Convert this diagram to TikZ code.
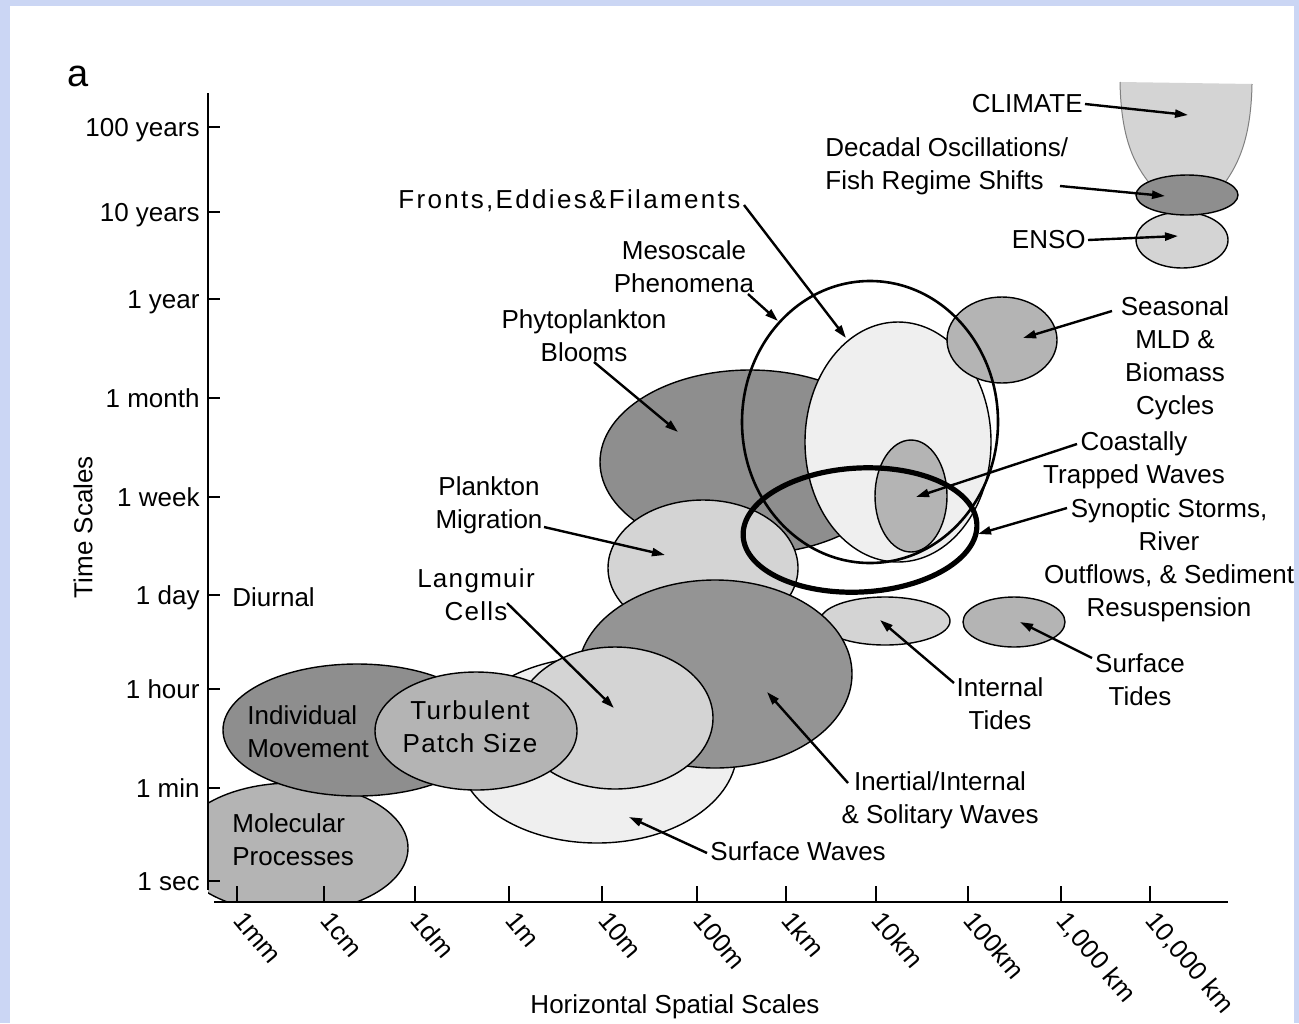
\documentclass[tikz,border=0pt]{standalone}
\usepackage{fontspec}
\setmainfont{Liberation Sans}
\usetikzlibrary{arrows.meta}
\definecolor{bgblue}{RGB}{203,214,244}
\definecolor{dk}{RGB}{142,142,142}
\definecolor{md}{RGB}{180,180,180}
\definecolor{lt}{RGB}{212,212,212}
\definecolor{vl}{RGB}{239,239,239}
\begin{document}
\begin{tikzpicture}[x=0.5pt,y=-0.5pt,
  lbl/.style={font=\fontsize{13}{16.5}\selectfont, inner sep=0pt, align=center},
  bub/.style={draw=black, line width=0.7pt},
  arr/.style={line width=1.2pt, -{Triangle[length=6.5pt,width=4pt]}},
  axisline/.style={line width=1.1pt},
]
\fill[bgblue] (0,0) rectangle (1299,1023);
\fill[white] (10,6) rectangle (1294,1023);
\useasboundingbox (0,0) rectangle (1299,1023);

% ---------- bubbles ----------
\begin{scope}
  \clip (208,700) rectangle (600,902);
  \draw[bub, fill=md] (292,848) ellipse [x radius=116, y radius=65];
\end{scope}
\draw[bub, fill=vl] (597,750) ellipse [x radius=140, y radius=93];
\draw[bub, fill=dk] (357,730) ellipse [x radius=134, y radius=66];
\draw[bub, fill=dk] (750,462) ellipse [x radius=150, y radius=92];
\draw[bub, fill=lt] (703,568) ellipse [x radius=95, y radius=68];
\draw[bub, fill=lt] (885,621) ellipse [x radius=65, y radius=24];
\draw[bub, fill=dk!95!white] (715,674) ellipse [x radius=137, y radius=94];
\draw[bub, fill=lt] (615,718) ellipse [x radius=98, y radius=71];
\draw[bub, fill=md] (476,731) ellipse [x radius=101, y radius=59];
\draw[bub, fill=vl] (898,442) ellipse [x radius=93, y radius=120];
\draw[bub, fill=md] (1002,340) ellipse [x radius=55, y radius=43];
\draw[bub, fill=md] (911,496) ellipse [x radius=36, y radius=56];
\draw[bub, fill=md] (1014,622) ellipse [x radius=51, y radius=25];
\draw[line width=1.3pt] (870,422) ellipse [x radius=128, y radius=141];
\draw[line width=2.6pt, rotate around={3:(860,530)}] (860,530) ellipse [x radius=117, y radius=62];

% climate cup and stacked ellipses
\draw[gray, line width=0.5pt, fill=lt] (1120,82) .. controls (1121,140) and (1135,165) .. (1150,184)
  -- (1224,184) .. controls (1240,162) and (1251,135) .. (1252,84);
\draw[bub, fill=lt] (1182,240) ellipse [x radius=46, y radius=28];
\draw[bub, fill=dk] (1187,195) ellipse [x radius=51, y radius=20];

% ---------- axes ----------
\draw[axisline] (208,93) -- (208,890);
\draw[axisline] (214,902) -- (1228,902);
\foreach \y/\t [count=\i] in {127/100 years,212/10 years,299/1 year,398/1 month,497/1 week,595/1 day,689/1 hour,788/1 min,881/1 sec}{
  \draw[axisline] (208,\y) -- (220,\y);
  \node[lbl, anchor=base east] (yt\i) at (200,\y+9) {\t};
}
\foreach \x/\t [count=\i] in {237/1mm,324/1cm,415/1dm,509/1m,602/10m,697/100m,786/1km,876/10km,968/100km,1061/{1,000 km},1150/{10,000 km}}{
  \draw[axisline] (\x,886) -- (\x,902);
  \node[lbl, rotate=-50, anchor=north west] (xt\i) at (\x+9,909) {\t};
}
\node[lbl, rotate=90] (ylab) at (83,527) {Time Scales};
\node[lbl] (xlab) at (675,1007) {Horizontal Spatial Scales};
\node[inner sep=0pt, font=\fontsize{19}{22}\selectfont] (panel) at (78,76) {a};

% ---------- labels ----------
\node[lbl, anchor=east] (climate) at (1083,104) {CLIMATE};
\node[lbl, anchor=west, align=left] (decadal) at (825,166) {Decadal Oscillations/\\Fish Regime Shifts};
\node[lbl, anchor=east] (enso) at (1086,240) {ENSO};
\node[lbl, anchor=west, font=\fontsize{13}{16.5}\selectfont\addfontfeature{LetterSpace=9}] (fronts) at (398,201) {Fronts,Eddies\&Filaments};
\node[lbl] (meso) at (684,267) {Mesoscale\\Phenomena};
\node[lbl] (phyto) at (584,336) {Phytoplankton\\Blooms};
\node[lbl] (plank) at (489,505) {Plankton\\Migration};
\node[lbl, font=\fontsize{13}{16.5}\selectfont\addfontfeature{LetterSpace=5}] (lang) at (476,595) {Langmuir\\Cells};
\node[lbl, anchor=west, align=left] (indiv) at (247,732) {Individual\\Movement};
\node[lbl, font=\fontsize{13}{16.5}\selectfont\addfontfeature{LetterSpace=5}] (turb) at (470,727) {Turbulent\\Patch Size};
\node[lbl, anchor=west, align=left] (molec) at (232,840) {Molecular\\Processes};
\node[lbl, anchor=west] (diurnal) at (232,597) {Diurnal};
\node[lbl] (seasonal) at (1175,358) {Seasonal\\MLD \&\\Biomass\\Cycles};
\node[lbl] (coastal) at (1134,460) {Coastally\\Trapped Waves};
\node[lbl] (synoptic) at (1169,560) {Synoptic Storms,\\River\\Outflows, \& Sediment\\Resuspension};
\node[lbl] (stides) at (1140,680) {Surface\\Tides};
\node[lbl] (itides) at (1000,704) {Internal\\Tides};
\node[lbl] (inertial) at (940,800) {Inertial/Internal\\\& Solitary Waves};
\node[lbl, anchor=west] (swaves) at (710,851) {Surface Waves};

% ---------- arrows ----------
\coordinate (climE) at (1188,115);
\coordinate (decS) at (1060,186);   \coordinate (decE) at (1165,196);
\coordinate (ensoE) at (1178,236);
\coordinate (frS) at (744,205);     \coordinate (frE) at (846,338);
\coordinate (meS) at (748,294);     \coordinate (meE) at (778,321);
\coordinate (phS) at (594,362);     \coordinate (phE) at (678,432);
\coordinate (plS) at (544,527);     \coordinate (plE) at (665,555);
\coordinate (laS) at (507,603);     \coordinate (laE) at (614,708);
\coordinate (seS) at (1112,311);    \coordinate (seE) at (1023,338);
\coordinate (coS) at (1077,444);    \coordinate (coE) at (916,497);
\coordinate (syS) at (1067,508);    \coordinate (syE) at (978,534);
\coordinate (stS) at (1092,658);    \coordinate (stE) at (1020,622);
\coordinate (itS) at (954,683);     \coordinate (itE) at (880,620);
\coordinate (inS) at (848,783);     \coordinate (inE) at (767,692);
\coordinate (swS) at (707,853);     \coordinate (swE) at (629,817);

\draw[arr] ([xshift=1pt]climate.east) -- (climE);
\draw[arr] (decS) -- (decE);
\draw[arr] ([xshift=1pt]enso.east) -- (ensoE);
\draw[arr] (frS) -- (frE);
\draw[arr] (meS) -- (meE);
\draw[arr] (phS) -- (phE);
\draw[arr] (plS) -- (plE);
\draw[arr] (laS) -- (laE);
\draw[arr] (seS) -- (seE);
\draw[arr] (coS) -- (coE);
\draw[arr] (syS) -- (syE);
\draw[arr] (stS) -- (stE);
\draw[arr] (itS) -- (itE);
\draw[arr] (inS) -- (inE);
\draw[arr] (swS) -- (swE);

\fill[bgblue] (1294,0) rectangle (1299,1023);
\end{tikzpicture}
\end{document}
